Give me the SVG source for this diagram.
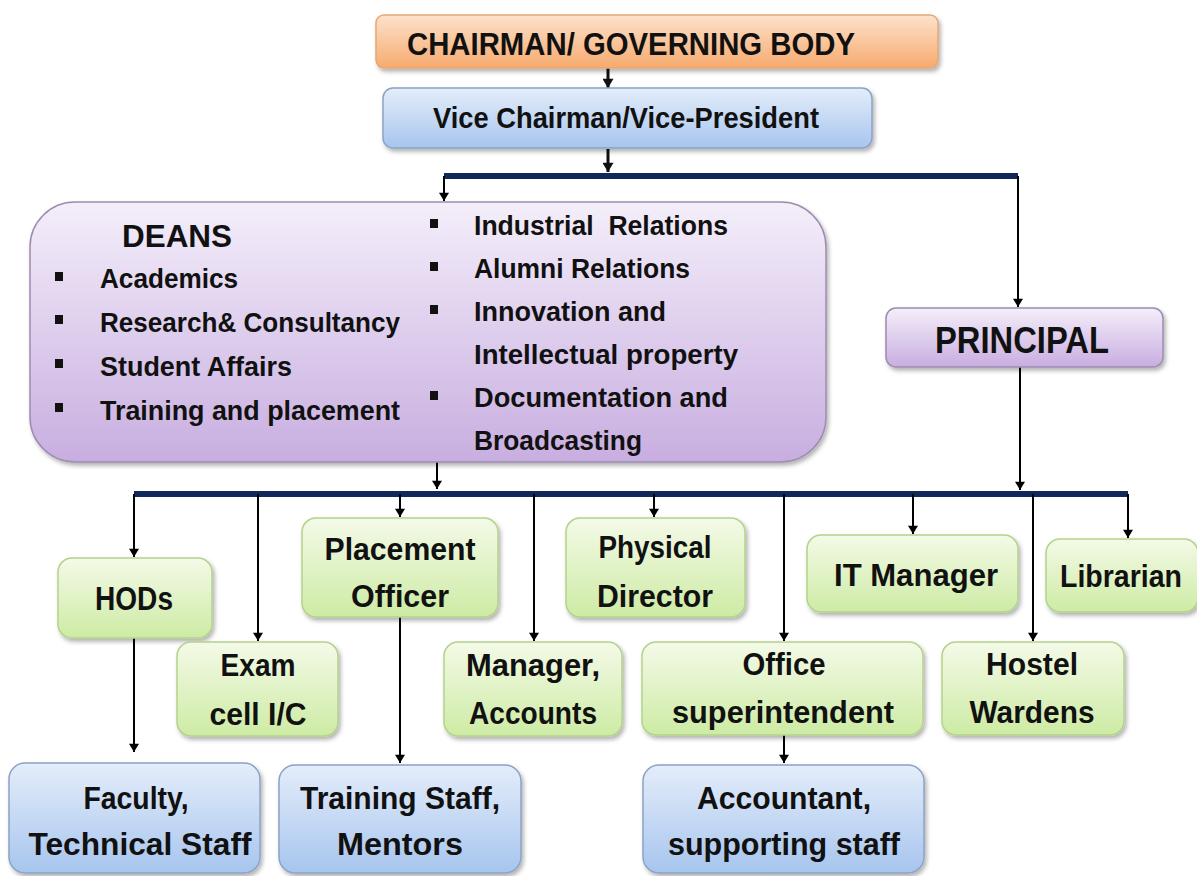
<svg xmlns="http://www.w3.org/2000/svg" width="1197" height="876" viewBox="0 0 1197 876">
<defs>
<style>
.t{font-family:"Liberation Sans",Arial,sans-serif;font-weight:bold;fill:#111;}
.c{text-anchor:middle;}
.g{fill:url(#gGreen);stroke:#b4d28c;stroke-width:1.5;filter:url(#sh);}
.b{fill:url(#gBlue);stroke:#8aa2c6;stroke-width:1.5;filter:url(#sh);}
.p{fill:url(#gPurple);stroke:#9c8cb0;stroke-width:1.5;filter:url(#sh);}
.o{fill:url(#gOrange);stroke:#e6a874;stroke-width:1.5;filter:url(#sh);}
.ln{stroke:#000;stroke-width:2;fill:none;}
.lnA{stroke:#000;stroke-width:2;fill:none;marker-end:url(#ar);}
.lnT{stroke:#111;stroke-width:3;fill:none;marker-end:url(#arT);}
.bar{stroke:#10285a;stroke-width:6;fill:none;}
.bul{fill:#111;}
</style>
<linearGradient id="gGreen" x1="0" y1="0" x2="0" y2="1">
<stop offset="0" stop-color="#f4fae8"/>
<stop offset="1" stop-color="#cdeba4"/>
</linearGradient>
<linearGradient id="gBlue" x1="0" y1="0" x2="0" y2="1">
<stop offset="0" stop-color="#e4edfa"/>
<stop offset="1" stop-color="#a7c5ee"/>
</linearGradient>
<linearGradient id="gPurple" x1="0" y1="0" x2="0" y2="1">
<stop offset="0" stop-color="#f4eefa"/>
<stop offset="1" stop-color="#c8aee0"/>
</linearGradient>
<linearGradient id="gOrange" x1="0" y1="0" x2="0" y2="1">
<stop offset="0" stop-color="#fde2cc"/>
<stop offset="1" stop-color="#f6aa6e"/>
</linearGradient>
<filter id="sh" x="-10%" y="-10%" width="120%" height="130%">
<feDropShadow dx="2" dy="3" stdDeviation="2" flood-color="#000" flood-opacity="0.3"/>
</filter>
<marker id="ar" viewBox="0 0 10 12" refX="10" refY="6" markerWidth="12" markerHeight="10" markerUnits="userSpaceOnUse" orient="auto">
<path d="M0,0 L10,6 L0,12 z" fill="#000"/>
</marker>
<marker id="arT" viewBox="0 0 10 12" refX="10" refY="6" markerWidth="10" markerHeight="11" markerUnits="userSpaceOnUse" orient="auto">
<path d="M0,0 L10,6 L0,12 z" fill="#111"/>
</marker>
</defs>
<rect width="1197" height="876" fill="#fff"/>

<g id="connectors">
<line class="lnT" x1="608" y1="68" x2="608" y2="88"/>
<line class="lnT" x1="608" y1="149" x2="608" y2="172"/>
<path class="bar" d="M444,176 H1018" stroke-width="5"/>
<line class="lnA" x1="444" y1="176" x2="444" y2="201"/>
<line class="lnA" x1="1018" y1="176" x2="1018" y2="307"/>
<line class="lnA" x1="437" y1="462" x2="437" y2="489"/>
<line class="lnA" x1="1020" y1="367" x2="1020" y2="490"/>
<path class="bar" d="M134,494 H1128"/>
<line class="lnA" x1="134" y1="494" x2="134" y2="557"/>
<line class="lnA" x1="258" y1="494" x2="258" y2="641"/>
<line class="lnA" x1="400" y1="494" x2="400" y2="517"/>
<line class="lnA" x1="534" y1="494" x2="534" y2="641"/>
<line class="lnA" x1="654" y1="494" x2="654" y2="517"/>
<line class="lnA" x1="784" y1="494" x2="784" y2="641"/>
<line class="lnA" x1="913" y1="494" x2="913" y2="534"/>
<line class="lnA" x1="1033" y1="494" x2="1033" y2="641"/>
<line class="lnA" x1="1128" y1="494" x2="1128" y2="538"/>
<line class="lnA" x1="134" y1="638" x2="134" y2="752"/>
<line class="lnA" x1="400" y1="617" x2="400" y2="763"/>
<line class="lnA" x1="784" y1="735" x2="784" y2="763"/>
</g>

<g id="chairman">
<rect class="o" x="376" y="15" width="562" height="53" rx="8"/>
<text class="t" x="407" y="55" font-size="32" textLength="448" lengthAdjust="spacingAndGlyphs">CHAIRMAN/ GOVERNING BODY</text>
</g>

<g id="vice">
<rect class="b" x="383" y="88" width="489" height="60" rx="10"/>
<text class="t" x="433" y="128" font-size="30" textLength="386" lengthAdjust="spacingAndGlyphs">Vice Chairman/Vice-President</text>
</g>

<g id="deans">
<rect class="p" x="30" y="202" width="796" height="260" rx="45"/>
<text class="t" x="122" y="247" font-size="32" textLength="110" lengthAdjust="spacingAndGlyphs">DEANS</text>
<rect class="bul" x="55" y="272" width="8" height="9"/>
<text class="t" x="100" y="288" font-size="27" textLength="138" lengthAdjust="spacingAndGlyphs">Academics</text>
<rect class="bul" x="55" y="315" width="8" height="9"/>
<text class="t" x="100" y="332" font-size="27" textLength="300" lengthAdjust="spacingAndGlyphs">Research&amp; Consultancy</text>
<rect class="bul" x="55" y="359" width="8" height="9"/>
<text class="t" x="100" y="376" font-size="27" textLength="192" lengthAdjust="spacingAndGlyphs">Student Affairs</text>
<rect class="bul" x="55" y="403" width="8" height="9"/>
<text class="t" x="100" y="420" font-size="27" textLength="300" lengthAdjust="spacingAndGlyphs">Training and placement</text>
<rect class="bul" x="430" y="219" width="8" height="9"/>
<text class="t" x="474" y="235" font-size="27" textLength="254" lengthAdjust="spacingAndGlyphs" xml:space="preserve">Industrial  Relations</text>
<rect class="bul" x="430" y="262" width="8" height="9"/>
<text class="t" x="474" y="278" font-size="27" textLength="216" lengthAdjust="spacingAndGlyphs">Alumni Relations</text>
<rect class="bul" x="430" y="305" width="8" height="9"/>
<text class="t" x="474" y="321" font-size="27" textLength="192" lengthAdjust="spacingAndGlyphs">Innovation and</text>
<text class="t" x="474" y="364" font-size="27" textLength="264" lengthAdjust="spacingAndGlyphs">Intellectual property</text>
<rect class="bul" x="430" y="391" width="8" height="9"/>
<text class="t" x="474" y="407" font-size="27" textLength="254" lengthAdjust="spacingAndGlyphs">Documentation and</text>
<text class="t" x="474" y="450" font-size="27" textLength="168" lengthAdjust="spacingAndGlyphs">Broadcasting</text>
</g>

<g id="principal">
<rect class="p" x="886" y="308" width="277" height="59" rx="10"/>
<text class="t c" x="1022" y="353" font-size="36" textLength="174" lengthAdjust="spacingAndGlyphs">PRINCIPAL</text>
</g>

<g id="hods">
<rect class="g" x="58" y="558" width="154" height="80" rx="14"/>
<text class="t c" x="134" y="610" font-size="33" textLength="78" lengthAdjust="spacingAndGlyphs">HODs</text>
</g>

<g id="exam">
<rect class="g" x="177" y="642" width="161" height="94" rx="14"/>
<text class="t c" x="258" y="676" font-size="32" textLength="75" lengthAdjust="spacingAndGlyphs">Exam</text>
<text class="t c" x="258" y="725" font-size="32" textLength="97" lengthAdjust="spacingAndGlyphs">cell I/C</text>
</g>

<g id="placement">
<rect class="g" x="302" y="518" width="196" height="99" rx="14"/>
<text class="t c" x="400" y="560" font-size="32" textLength="151" lengthAdjust="spacingAndGlyphs">Placement</text>
<text class="t c" x="400" y="607" font-size="32" textLength="98" lengthAdjust="spacingAndGlyphs">Officer</text>
</g>

<g id="manager">
<rect class="g" x="444" y="642" width="178" height="94" rx="14"/>
<text class="t c" x="533" y="676" font-size="32" textLength="134" lengthAdjust="spacingAndGlyphs">Manager,</text>
<text class="t c" x="533" y="724" font-size="32" textLength="128" lengthAdjust="spacingAndGlyphs">Accounts</text>
</g>

<g id="physical">
<rect class="g" x="566" y="518" width="179" height="99" rx="14"/>
<text class="t c" x="655" y="558" font-size="32" textLength="113" lengthAdjust="spacingAndGlyphs">Physical</text>
<text class="t c" x="655" y="607" font-size="32" textLength="116" lengthAdjust="spacingAndGlyphs">Director</text>
</g>

<g id="office">
<rect class="g" x="642" y="642" width="281" height="93" rx="14"/>
<text class="t c" x="784" y="675" font-size="32" textLength="83" lengthAdjust="spacingAndGlyphs">Office</text>
<text class="t c" x="783" y="723" font-size="32" textLength="222" lengthAdjust="spacingAndGlyphs">superintendent</text>
</g>

<g id="itmanager">
<rect class="g" x="807" y="535" width="211" height="77" rx="14"/>
<text class="t c" x="916" y="586" font-size="32" textLength="164" lengthAdjust="spacingAndGlyphs">IT Manager</text>
</g>

<g id="librarian">
<rect class="g" x="1046" y="539" width="152" height="73" rx="14"/>
<text class="t c" x="1121" y="587" font-size="32" textLength="122" lengthAdjust="spacingAndGlyphs">Librarian</text>
</g>

<g id="hostel">
<rect class="g" x="942" y="642" width="182" height="93" rx="14"/>
<text class="t c" x="1032" y="675" font-size="32" textLength="92" lengthAdjust="spacingAndGlyphs">Hostel</text>
<text class="t c" x="1032" y="723" font-size="32" textLength="125" lengthAdjust="spacingAndGlyphs">Wardens</text>
</g>

<g id="faculty">
<rect class="b" x="9" y="763" width="251" height="110" rx="16"/>
<text class="t c" x="136" y="809" font-size="32" textLength="105" lengthAdjust="spacingAndGlyphs">Faculty,</text>
<text class="t c" x="140" y="855" font-size="32" textLength="223" lengthAdjust="spacingAndGlyphs">Technical Staff</text>
</g>

<g id="training">
<rect class="b" x="279" y="765" width="242" height="108" rx="16"/>
<text class="t c" x="400" y="809" font-size="32" textLength="200" lengthAdjust="spacingAndGlyphs">Training Staff,</text>
<text class="t c" x="400" y="855" font-size="32" textLength="126" lengthAdjust="spacingAndGlyphs">Mentors</text>
</g>

<g id="accountant">
<rect class="b" x="643" y="765" width="281" height="108" rx="16"/>
<text class="t c" x="784" y="809" font-size="32" textLength="174" lengthAdjust="spacingAndGlyphs">Accountant,</text>
<text class="t c" x="784" y="855" font-size="32" textLength="232" lengthAdjust="spacingAndGlyphs">supporting staff</text>
</g>
</svg>
